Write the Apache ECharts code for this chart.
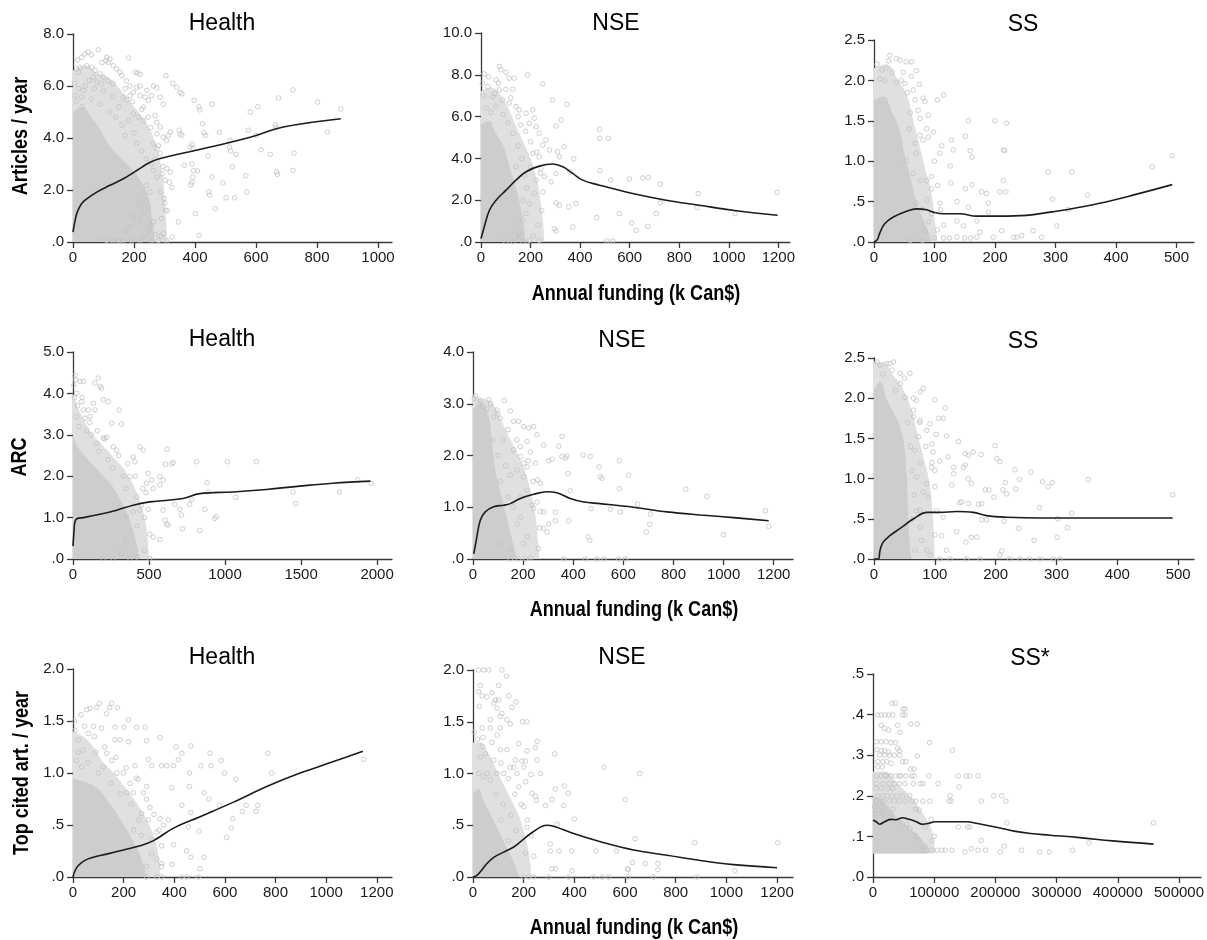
<!DOCTYPE html>
<html>
<head>
<meta charset="utf-8">
<script src="https://cdn.jsdelivr.net/npm/echarts@6/dist/echarts.min.js"></script>
<style>html,body{margin:0;padding:0;background:#fff}#chart{width:1207px;height:940px}</style>
</head>
<body>
<div id="chart"></div>
<script>
// ---- tick labels ----
const ticks0to1000 = [0, 200, 400, 600, 800, 1000];
const ticks0to1200 = [0, 200, 400, 600, 800, 1000, 1200];
const ticks0to500 = [0, 100, 200, 300, 400, 500];
const ticks0to2000 = [0, 500, 1000, 1500, 2000];
const ticks0to500k = [0, 100000, 200000, 300000, 400000, 500000];

// ---- Row 1: Articles / year ----
const health1Pts = [[878,5.12],[802,5.38],[834,4.23],[721,5.85],[725,3.42],[721,2.75],[674,5.54],[664,4.5],[664,4.4],[668,2.7],[670,2.6],[647,3.37],[617,3.55],[606,5.2],[601,4.1],[575,4.3],[581,5.0],[567,2.55],[570,1.92],[535,3.37],[530,1.7],[523,2.9],[515,3.9],[513,3.65],[517,3.5],[502,1.7],[491,2.27],[480,4.22],[466,1.28],[456,5.3],[456,2.5],[448,1.8],[445,1.92],[443,3.3],[435,4.1],[430,4.2],[425,4.55],[413,5.2],[416,5.08],[408,2.73],[413,0.26],[401,1.09],[397,5.45],[390,3.75],[384,3.65],[393,3.6],[390,3.0],[395,2.75],[393,2.5],[390,2.3],[386,2.2],[365,2.95],[346,0.77],[348,4.3],[351,4.15],[357,4.1],[340,5.95],[351,5.75],[357,5.7],[327,6.1],[325,0.19],[305,6.4],[304,1.22],[309,1.2],[299,1.67],[296,0.32],[289,0.22],[286,1.92],[264,6.0],[275,5.93],[286,5.57],[296,5.3],[264,0.77],[258,0.64],[247,0.45],[209,5.95],[220,6.0],[204,6.53],[212,6.5],[220,6.45],[182,7.08],[83,7.39],[50,7.3],[39,7.23],[28,7.1],[110,7.1],[121,7.04],[108,6.98],[116,6.9],[132,6.78],[143,6.66],[154,6.53],[160,6.4],[12,6.66],[23,6.72],[18,6.53],[45,6.78],[61,6.72],[72,6.6],[89,6.47],[100,6.34],[67,6.34],[53,6.21],[78,6.15],[94,6.08],[18,5.9],[34,5.83],[7,5.63],[28,5.57],[165,5.57],[176,5.47],[187,5.63],[171,5.9],[187,6.0],[198,5.76],[220,5.63],[236,5.57],[247,5.44],[258,5.63],[242,5.83],[231,5.19],[247,4.8],[269,4.87],[198,4.93],[214,4.8],[231,4.67],[182,4.67],[275,4.6],[286,4.42],[275,4.16],[296,4.03],[307,3.9],[313,4.1],[319,4.23],[264,3.78],[275,3.59],[286,3.4],[269,3.2],[258,3.0],[264,2.75],[275,2.5],[292,2.62],[307,2.82],[319,2.69],[302,2.37],[316,2.3],[324,2.1],[242,2.18],[253,1.92],[236,1.6],[247,1.34],[220,1.47],[231,1.09],[220,0.83],[198,0.96],[187,0.58],[171,0.45],[89,0.13],[110,0.06],[132,0.04],[165,0.04],[193,0.04],[220,0.04],[258,0.04],[280,0.06],[307,0.04],[10,5.4],[30,5.2],[60,5.5],[90,5.3],[120,5.0],[140,4.8],[160,4.5],[150,5.2],[130,5.6],[40,6.0],[70,5.9],[100,5.8],[5,6.1],[115,6.2],[210,3.8],[225,3.5],[240,3.2],[200,4.2],[170,4.1],[15,7.0],[60,7.2],[95,6.9],[130,6.1],[175,6.2],[195,5.4],[225,5.1],[255,4.4],[280,3.7],[295,2.9],[300,1.5],[290,0.9],[270,0.3],[230,0.2],[150,0.05]];
const health1Core = [[0,5.0],[30,5.2],[60,4.8],[90,4.3],[120,3.7],[160,3.2],[200,2.7],[230,2.2],[250,1.6],[260,0.8],[268,0]];
const health1Halo = [[0,6.6],[40,6.8],[80,6.5],[120,6.3],[160,5.8],[200,5.2],[240,4.6],[270,3.8],[290,2.8],[300,1.8],[305,0.8],[310,0]];
const health1Fit = [[0,0.38],[7,0.83],[14,1.15],[28,1.47],[45,1.66],[78,1.92],[121,2.18],[165,2.43],[209,2.75],[253,3.07],[296,3.24],[362,3.42],[472,3.71],[581,4.03],[690,4.42],[878,4.74]];

const nse1Pts = [[1195,2.37],[1025,1.36],[877,2.32],[871,1.65],[724,2.77],[724,1.87],[707,1.36],[673,0.75],[676,3.09],[653,3.06],[599,3.02],[626,0.56],[608,0.91],[558,1.36],[523,2.96],[467,1.17],[513,4.96],[480,4.96],[478,5.39],[480,3.41],[531,0.05],[507,0.05],[347,6.58],[374,3.98],[370,0.72],[383,1.84],[359,3.36],[354,1.68],[336,4.56],[323,5.84],[303,5.55],[303,0.53],[289,6.8],[296,0.64],[303,1.87],[316,1.76],[309,4.32],[316,4.08],[303,3.28],[283,2.88],[249,7.57],[188,8.0],[114,7.84],[74,8.4],[13,8.05],[81,8.24],[101,8.11],[61,7.76],[134,7.84],[128,7.31],[74,7.28],[27,7.44],[47,6.96],[87,6.8],[114,6.64],[141,6.48],[155,6.32],[182,6.16],[209,6.32],[215,5.92],[195,5.68],[222,5.52],[235,5.2],[262,4.88],[249,4.64],[276,4.4],[209,4.24],[235,4.08],[242,3.52],[256,3.12],[222,2.96],[215,2.32],[195,1.84],[182,1.36],[168,1.04],[155,0.4],[235,0.08],[195,0.08],[155,0.21],[20,6.4],[40,6.2],[60,6.5],[90,6.1],[110,5.7],[130,5.2],[150,4.6],[165,4.0],[175,3.2],[185,2.6],[170,2.0],[10,7.0],[55,7.1],[160,5.6],[140,3.6],[200,3.6],[5,7.6],[30,7.9],[70,7.6],[100,7.3],[120,6.9],[150,6.0],[180,5.3],[200,4.8],[225,4.3],[240,3.3],[250,2.4],[245,1.5],[230,0.8],[210,0.3],[100,0.02],[130,0.02],[170,0.02]];
const nse1Core = [[0,5.6],[30,5.8],[60,5.2],[90,4.6],[110,3.8],[130,3.0],[150,2.2],[165,1.3],[175,0.5],[180,0]];
const nse1Halo = [[0,7.2],[40,7.4],[80,7.0],[110,6.4],[140,5.6],[170,4.8],[200,4.0],[225,3.0],[240,2.0],[250,1.0],[255,0]];
const nse1Fit = [[0,0.16],[13,0.72],[34,1.52],[61,2.0],[101,2.48],[141,2.96],[182,3.36],[235,3.63],[289,3.73],[330,3.6],[370,3.28],[410,2.96],[478,2.72],[612,2.32],[747,2.0],[881,1.76],[1016,1.52],[1197,1.28]];

const ss1Pts = [[493,1.07],[460,0.93],[353,0.58],[327,0.87],[288,0.87],[295,0.53],[302,0.2],[321,0.4],[263,0.14],[277,0.06],[214,1.14],[216,1.13],[214,0.76],[208,0.62],[218,0.62],[211,0.14],[200,1.5],[219,1.47],[156,1.5],[151,1.31],[159,1.13],[162,1.05],[162,0.71],[151,0.66],[156,0.43],[137,0.5],[137,0.26],[148,0.2],[126,0.94],[128,1.26],[131,1.14],[127,0.73],[109,1.1],[112,1.19],[115,0.21],[109,0.48],[98,1.36],[105,1.76],[115,1.82],[178,0.62],[186,0.6],[189,0.48],[189,0.37],[197,0.06],[231,0.06],[236,0.06],[244,0.08],[170,0.06],[137,0.06],[115,0.05],[170,0.26],[175,0.12],[24,2.24],[37,2.27],[26,2.31],[43,2.25],[53,2.23],[62,2.23],[70,2.12],[62,2.05],[51,1.96],[37,1.98],[65,1.88],[68,1.76],[81,1.78],[84,1.74],[73,1.63],[76,1.53],[90,1.57],[87,1.4],[76,1.32],[81,1.26],[68,1.22],[70,1.1],[54,1.01],[65,0.85],[76,0.76],[87,0.76],[95,0.81],[95,0.66],[87,0.52],[79,0.41],[95,0.35],[90,0.25],[84,0.14],[70,0.48],[13,2.13],[10,2.02],[18,2.0],[30,2.1],[45,2.0],[55,1.85],[60,1.6],[58,1.4],[100,0.05],[125,0.05],[150,0.05],[160,0.05],[5,2.2],[20,2.15],[48,2.1],[75,1.95],[90,1.3],[100,1.0],[105,0.7],[110,0.4],[105,0.15],[60,0.02],[80,0.02]];
const ss1Core = [[0,1.75],[15,1.8],[30,1.6],[42,1.4],[50,1.1],[60,0.8],[70,0.5],[80,0.3],[90,0.12],[95,0]];
const ss1Halo = [[0,2.15],[20,2.2],[40,2.0],[55,1.8],[65,1.5],[75,1.2],[85,0.9],[95,0.6],[100,0.3],[105,0]];
const ss1Fit = [[0,0],[5.5,0.03],[10,0.12],[18,0.23],[32,0.31],[54,0.38],[70,0.41],[87,0.4],[98,0.37],[115,0.35],[142,0.35],[170,0.32],[208,0.32],[252,0.33],[291,0.37],[318,0.4],[373,0.48],[428,0.58],[493,0.71]];

// ---- Row 2: ARC ----
const health2Pts = [[1961,1.83],[1873,1.91],[1446,1.62],[1464,1.34],[1753,1.62],[1206,2.35],[1015,2.35],[812,2.35],[1070,1.49],[867,1.2],[834,0.69],[932,0.98],[943,1.02],[882,1.84],[888,1.62],[659,2.33],[619,2.65],[608,2.29],[648,2.3],[720,0.73],[713,1.06],[670,1.32],[702,1.2],[768,1.32],[779,1.44],[593,1.18],[606,0.94],[615,0.84],[626,0.82],[527,0.53],[571,0.47],[505,0.01],[571,1.99],[593,1.91],[516,1.91],[484,1.83],[494,2.07],[571,1.79],[527,1.7],[462,2.63],[440,2.71],[396,2.47],[407,2.35],[374,1.99],[440,1.18],[396,1.14],[352,1.02],[341,0.45],[319,0.13],[374,0.01],[265,0.01],[199,0.01],[304,3.6],[319,3.26],[265,2.71],[287,2.63],[221,2.94],[232,3.8],[199,3.85],[166,4.37],[177,4.17],[188,4.13],[144,4.25],[134,3.76],[144,3.6],[112,3.44],[79,3.4],[101,3.6],[68,4.29],[46,4.29],[18,4.33],[13,4.43],[68,3.6],[57,3.8],[24,3.44],[254,3.28],[199,2.92],[155,2.79],[10,3.9],[30,3.7],[40,3.2],[90,3.1],[120,3.0],[170,2.6],[230,2.4],[260,2.2],[330,2.0],[350,1.7],[420,1.5],[450,1.3],[470,1.0],[420,0.8],[480,1.6],[5,4.2],[25,4.0],[60,3.9],[110,3.3],[160,3.1],[210,2.9],[300,2.5],[360,2.3],[410,2.0],[460,1.7],[495,1.2],[505,0.6],[470,0.2],[420,0.05]];
const health2Core = [[0,3.0],[20,2.8],[50,2.6],[100,2.4],[150,2.2],[200,2.0],[250,1.8],[300,1.5],[350,1.15],[390,0.75],[420,0.35],[435,0]];
const health2Halo = [[0,4.0],[40,3.6],[80,3.3],[130,3.0],[180,2.8],[230,2.6],[280,2.4],[330,2.2],[380,1.9],[430,1.5],[470,1.0],[490,0.5],[500,0]];
const health2Fit = [[0,0.31],[7,0.69],[13,0.9],[28,0.98],[68,1.0],[177,1.08],[287,1.18],[396,1.3],[505,1.38],[724,1.46],[834,1.58],[1053,1.62],[1271,1.68],[1490,1.76],[1709,1.83],[1956,1.88]];

const nse2Pts = [[1180,0.63],[1167,0.93],[1000,0.47],[934,1.21],[849,1.35],[708,0.87],[692,0.52],[705,0.67],[657,1.06],[621,1.62],[588,0.91],[584,1.36],[584,1.9],[548,0.96],[508,1.59],[515,1.56],[503,1.78],[468,1.98],[439,2.01],[471,0.97],[459,0.43],[466,0.36],[388,1.32],[379,1.65],[382,0.74],[355,1.98],[369,1.95],[375,1.99],[355,2.37],[342,2.18],[315,1.93],[302,1.9],[329,0.9],[329,0.74],[302,0.68],[295,0.52],[282,0.59],[269,0.92],[282,0.91],[242,0.98],[235,1.04],[269,1.46],[258,1.53],[282,2.2],[255,2.4],[242,2.56],[222,2.53],[202,2.56],[182,2.66],[162,2.66],[149,2.86],[125,3.06],[63,3.08],[96,2.88],[109,2.72],[82,2.75],[216,2.27],[189,2.17],[189,1.98],[202,1.85],[162,2.11],[176,1.72],[149,1.62],[229,2.07],[249,1.85],[216,1.78],[202,1.59],[216,1.33],[189,1.2],[189,0.81],[176,0.68],[149,0.18],[149,0],[182,0],[209,0],[362,0],[448,0],[495,0],[522,0],[581,0],[608,0],[216,0.43],[202,0.3],[109,0.3],[10,3.15],[25,3.0],[40,2.95],[55,2.9],[120,2.3],[130,1.8],[110,1.5],[140,1.2],[160,1.0],[100,2.0],[80,2.3],[5,3.1],[30,3.05],[70,3.0],[100,2.8],[140,2.5],[175,2.3],[220,1.9],[240,1.5],[255,1.1],[265,0.6],[260,0.2],[230,0.02]];
const nse2Core = [[0,2.9],[30,3.0],[60,2.8],[75,2.3],[90,1.7],[110,1.3],[130,0.9],[150,0.5],[165,0.2],[175,0]];
const nse2Halo = [[0,3.15],[40,3.1],[80,3.0],[120,2.6],[160,2.2],[200,1.8],[230,1.3],[250,0.8],[260,0.3],[265,0]];
const nse2Fit = [[3,0.1],[13,0.36],[29,0.75],[49,0.91],[82,1.01],[122,1.04],[149,1.07],[189,1.17],[242,1.25],[295,1.3],[335,1.28],[388,1.17],[442,1.1],[508,1.07],[641,1.0],[774,0.91],[907,0.85],[1040,0.8],[1180,0.74]];

const ss2Pts = [[491,0.8],[352,0.99],[325,0.57],[318,0.39],[302,0.5],[301,0.27],[293,0.95],[286,0.9],[277,0.96],[272,0.64],[263,0.23],[258,1.08],[239,0.99],[238,0.38],[232,1.11],[233,0.87],[216,0.95],[212,0.86],[218,0.81],[214,0.47],[207,1.21],[202,1.25],[199,1.41],[197,0.77],[210,0.1],[207,0.05],[189,0.86],[183,0.86],[185,0.49],[177,0.49],[176,1.3],[172,0.68],[177,0.69],[169,0.27],[160,0.27],[160,0.94],[155,1.0],[163,1.33],[155,1.29],[150,1.31],[147,1.14],[150,1.17],[144,0.71],[155,0.69],[141,0.7],[151,0.21],[136,0.34],[139,1.46],[131,1.14],[131,1.06],[128,0.92],[122,1.27],[119,1.53],[117,1.88],[100,1.98],[114,1.75],[106,1.75],[114,0.52],[111,0.29],[119,0.11],[102,1.55],[95,1.43],[97,1.33],[95,1.14],[100,1.1],[108,1.22],[87,1.6],[92,1.68],[76,2.08],[81,2.12],[59,2.31],[70,1.97],[65,1.85],[65,1.77],[76,1.72],[73,1.52],[67,1.35],[76,1.19],[70,1.02],[87,0.94],[81,0.83],[89,0.77],[76,0.61],[76,0.4],[78,0.23],[67,0.11],[87,0.11],[92,0.05],[26,2.43],[32,2.45],[21,2.43],[10,2.41],[43,2.31],[43,2.18],[51,2.01],[108,0],[125,0],[152,0],[174,0],[223,0],[240,0],[256,0],[273,0],[295,0],[306,0],[15,2.3],[35,2.1],[55,1.7],[60,1.4],[62,1.1],[66,0.8],[70,0.6],[63,0.5],[5,2.45],[30,2.35],[50,2.25],[65,2.0],[75,1.7],[85,1.4],[95,1.2],[100,0.9],[103,0.6],[100,0.3]];
const ss2Core = [[0,2.1],[10,2.2],[20,2.0],[30,1.85],[40,1.7],[48,1.5],[54,1.0],[57,0.4],[60,0.1],[62,0]];
const ss2Halo = [[0,2.45],[15,2.45],[30,2.3],[45,2.15],[60,1.9],[70,1.6],[80,1.3],[90,1.0],[95,0.7],[98,0.4],[100,0]];
const ss2Fit = [[0,0],[7,0],[10,0.11],[15,0.21],[26,0.29],[43,0.38],[65,0.5],[87,0.58],[108,0.58],[136,0.59],[163,0.58],[185,0.54],[218,0.52],[273,0.51],[371,0.51],[491,0.51]];

// ---- Row 3: Top cited articles / year ----
const health3Pts = [[1148,1.13],[785,1.0],[769,1.19],[730,0.69],[723,0.63],[684,0.69],[669,0.63],[631,0.56],[625,0.47],[607,0.38],[643,0.94],[598,1.0],[585,1.12],[578,0.69],[545,1.07],[541,1.19],[537,0.75],[518,0.81],[505,1.07],[498,0.44],[518,0.19],[502,0.08],[465,1.26],[460,1.0],[460,0.87],[465,0.62],[456,0.48],[430,0.69],[449,0.25],[465,0.19],[430,1.19],[416,1.13],[407,1.25],[397,1.07],[390,0.86],[377,0.55],[397,0.31],[390,0.12],[370,1.07],[344,1.34],[350,1.07],[344,0.56],[357,0.5],[331,0.43],[350,0.13],[311,1.07],[298,1.13],[291,1.31],[285,1.44],[252,1.44],[245,1.07],[258,0.94],[291,0.87],[278,0.81],[304,0.67],[271,0.61],[298,0.55],[311,0.36],[311,0.22],[331,0.17],[291,0.1],[291,0],[331,0],[350,0],[430,0],[449,0],[495,0],[104,1.67],[54,1.61],[32,1.56],[67,1.62],[94,1.63],[153,1.67],[145,1.63],[175,1.63],[133,1.57],[166,1.44],[202,1.44],[219,1.51],[186,1.32],[219,1.3],[166,1.32],[113,1.43],[80,1.45],[61,1.38],[133,1.19],[153,1.12],[120,1.06],[173,1.0],[199,1.0],[225,0.9],[212,0.81],[238,0.81],[186,0.8],[8,1.41],[21,1.32],[41,1.22],[14,1.12],[34,1.06],[60,1.1],[90,1.2],[100,1.0],[230,0.7],[260,0.55],[240,0.45],[270,0.4],[150,0.9],[20,1.2],[5,1.5],[45,1.45],[85,1.35],[125,1.25],[170,1.15],[210,1.05],[250,0.95],[290,0.75],[320,0.6],[340,0.45],[350,0.3],[350,0.1]];
const health3Core = [[0,0.95],[40,0.92],[80,0.88],[110,0.82],[140,0.72],[170,0.62],[200,0.5],[230,0.38],[255,0.26],[275,0.14],[290,0]];
const health3Halo = [[0,1.4],[40,1.35],[80,1.25],[120,1.1],[160,1.0],[200,0.88],[240,0.75],[280,0.6],[310,0.45],[330,0.3],[340,0.15],[345,0]];
const health3Fit = [[0,0],[8,0.06],[21,0.11],[47,0.16],[80,0.19],[133,0.22],[199,0.26],[265,0.3],[318,0.35],[397,0.47],[502,0.58],[634,0.72],[765,0.87],[897,1.0],[1029,1.11],[1145,1.21]];

const nse3Pts = [[1203,0.33],[1033,0.06],[875,0.33],[884,0],[713,0],[730,0.13],[730,0.07],[680,0.13],[630,0.14],[613,0.07],[612,0],[609,0.08],[601,0.75],[658,1.0],[640,0.37],[518,1.06],[566,0.25],[486,0.25],[476,0],[509,0],[536,0],[400,0.56],[389,0.25],[391,0.06],[378,0],[376,0.81],[361,0.88],[358,0.69],[332,0.51],[339,0.25],[322,1.19],[325,0.85],[312,0.75],[305,0.25],[312,0.08],[325,0.08],[305,0.32],[299,0],[286,0.69],[266,1.0],[253,1.13],[246,1.25],[253,1.31],[233,0.81],[246,0.78],[250,0.74],[229,0.99],[207,1.12],[213,1.22],[193,1.12],[200,1.06],[208,0.92],[213,1.5],[195,1.5],[180,1.29],[167,1.13],[174,1.0],[180,0.87],[200,0.68],[213,0.48],[207,0.23],[239,0],[220,0],[200,0],[170,1.69],[154,1.64],[141,1.75],[132,1.94],[114,2.0],[101,1.85],[108,1.55],[114,1.58],[134,1.52],[147,1.48],[62,2.0],[42,2.0],[22,2.0],[29,1.85],[22,1.79],[25,1.65],[36,1.75],[55,1.74],[75,1.78],[88,1.71],[101,1.71],[95,1.63],[82,1.68],[68,1.52],[36,1.44],[68,1.44],[108,1.44],[95,1.37],[108,1.23],[134,1.23],[147,1.06],[161,1.06],[121,1.0],[95,1.0],[55,1.0],[22,1.0],[42,0.97],[68,0.94],[29,1.16],[49,1.19],[82,1.13],[18,1.33],[36,1.26],[90,0.8],[120,0.7],[150,0.6],[110,0.55],[170,0.45],[140,0.35],[5,1.4],[40,1.35],[75,1.3],[110,1.1],[140,0.95],[165,0.8],[190,0.7],[215,0.55],[230,0.4],[240,0.2]];
const nse3Core = [[0,0.8],[20,0.85],[40,0.75],[60,0.65],[80,0.55],[100,0.45],[120,0.35],[140,0.25],[160,0.15],[175,0.05],[185,0]];
const nse3Halo = [[0,1.3],[30,1.3],[60,1.2],[90,1.05],[120,0.9],[150,0.75],[180,0.6],[200,0.45],[215,0.3],[225,0.15],[230,0]];
const nse3Fit = [[0,0],[13,0.01],[29,0.05],[55,0.13],[82,0.19],[121,0.24],[161,0.29],[187,0.34],[239,0.44],[292,0.5],[318,0.49],[397,0.42],[503,0.34],[634,0.26],[766,0.21],[897,0.16],[1029,0.12],[1200,0.09]];

const ss3Pts = [[458400,0.133],[352800,0.084],[326000,0.066],[287900,0.062],[272400,0.062],[242900,0.066],[208000,0.062],[214500,0.076],[218800,0.133],[217200,0.187],[210200,0.2],[197300,0.2],[183900,0.066],[176900,0.187],[176900,0.09],[171600,0.249],[171600,0.066],[160900,0.07],[158200,0.249],[152800,0.249],[158200,0.123],[154400,0.123],[150100,0.062],[139400,0.123],[140500,0.222],[139400,0.249],[129800,0.312],[127600,0.187],[124400,0.187],[126000,0.2],[128700,0.066],[118000,0.066],[112600,0.066],[106200,0.23],[95400,0.142],[96500,0.09],[96500,0.066],[92200,0.331],[91200,0.249],[92800,0.187],[81500,0.187],[81500,0.23],[77700,0.23],[72400,0.298],[72400,0.377],[61700,0.377],[67000,0.266],[61700,0.266],[67000,0.249],[63300,0.249],[66000,0.23],[69700,0.187],[69700,0.167],[52500,0.414],[49300,0.414],[48300,0.399],[52500,0.399],[40200,0.374],[44000,0.356],[42900,0.311],[40200,0.317],[53600,0.284],[48300,0.284],[44000,0.3],[45600,0.249],[31100,0.428],[36500,0.428],[8000,0.399],[13400,0.399],[19800,0.399],[25700,0.399],[32200,0.399],[13400,0.374],[18800,0.366],[25700,0.362],[5400,0.333],[13400,0.333],[21400,0.333],[29500,0.331],[36500,0.331],[6400,0.314],[13400,0.311],[18800,0.311],[25700,0.308],[10700,0.3],[18800,0.3],[26800,0.3],[34900,0.3],[8000,0.284],[16100,0.284],[22500,0.284],[29500,0.28],[8000,0.271],[15000,0.271],[5400,0.249],[13400,0.249],[21400,0.249],[29500,0.249],[37500,0.249],[42900,0.249],[53600,0.249],[5400,0.23],[16100,0.23],[26800,0.23],[34900,0.23],[42900,0.23],[52500,0.23],[5400,0.218],[13400,0.218],[24100,0.218],[32200,0.218],[8000,0.2],[16100,0.2],[22500,0.2],[31100,0.2],[38600,0.2],[48300,0.2],[5400,0.187],[16100,0.187],[26800,0.187],[34900,0.187],[42900,0.187],[53600,0.187],[64300,0.187],[2700,0.173],[13400,0.173],[22500,0.169],[32200,0.167],[4300,0.156],[16100,0.156],[29500,0.156],[75000,0.09],[80000,0.066],[85000,0.075],[70000,0.1],[60000,0.12],[55000,0.13],[45000,0.14],[88000,0.066],[85000,0.123],[100000,0.1],[105000,0.066],[20000,0.25],[60000,0.2],[75000,0.165]];
const ss3Core = [[0,0.2],[15000,0.19],[30000,0.16],[45000,0.14],[60000,0.12],[75000,0.1],[85000,0.08],[92000,0.06]];
const ss3Halo = [[0,0.26],[20000,0.26],[40000,0.23],[60000,0.2],[80000,0.16],[95000,0.12],[100000,0.08],[102000,0.06]];
const ss3Fit = [[0,0.14],[5360,0.136],[10700,0.13],[18800,0.136],[29500,0.142],[37500,0.141],[48300,0.146],[59000,0.142],[69700,0.137],[80400,0.13],[91200,0.132],[101900,0.136],[123300,0.136],[150100,0.136],[176900,0.13],[203700,0.122],[230600,0.113],[257400,0.107],[289500,0.103],[337800,0.097],[391400,0.089],[458400,0.081]];

// ---- panel setup ----
const FONT = '"Liberation Sans", Arial, sans-serif';
const FUNDING = 'Annual funding (k Can$)';

const panels = [
  { title: 'Health', pts: health1Pts, core: health1Core, halo: health1Halo, fit: health1Fit, xMax: 1046, xTicks: ticks0to1000, yMax: 8, yStep: 2, yName: 'Articles / year' },
  { title: 'NSE', pts: nse1Pts, core: nse1Core, halo: nse1Halo, fit: nse1Fit, xMax: 1247, xTicks: ticks0to1200, yMax: 10, yStep: 2, xName: FUNDING },
  { title: 'SS', pts: ss1Pts, core: ss1Core, halo: ss1Halo, fit: ss1Fit, xMax: 529, xTicks: ticks0to500, yMax: 2.5, yStep: 0.5 },
  { title: 'Health', pts: health2Pts, core: health2Core, halo: health2Halo, fit: health2Fit, xMax: 2098, xTicks: ticks0to2000, yMax: 5, yStep: 1, yName: 'ARC' },
  { title: 'NSE', pts: nse2Pts, core: nse2Core, halo: nse2Halo, fit: nse2Fit, xMax: 1277, xTicks: ticks0to1200, yMax: 4, yStep: 1, xName: FUNDING },
  { title: 'SS', pts: ss2Pts, core: ss2Core, halo: ss2Halo, fit: ss2Fit, xMax: 526, xTicks: ticks0to500, yMax: 2.5, yStep: 0.5 },
  { title: 'Health', pts: health3Pts, core: health3Core, halo: health3Halo, fit: health3Fit, xMax: 1260, xTicks: ticks0to1200, yMax: 2, yStep: 0.5, yName: 'Top cited art. / year' },
  { title: 'NSE', pts: nse3Pts, core: nse3Core, halo: nse3Halo, fit: nse3Fit, xMax: 1263, xTicks: ticks0to1200, yMax: 2, yStep: 0.5, xName: FUNDING },
  { title: 'SS*', pts: ss3Pts, core: ss3Core, halo: ss3Halo, fit: ss3Fit, xMax: 536000, xTicks: ticks0to500k, yMax: 0.5, yStep: 0.1, coreBase: 0.058 }
];

// pixel layout of each plot area
const boxes = [
  { left: 73, top: 34, width: 319, height: 208 },
  { left: 481, top: 33, width: 309, height: 209 },
  { left: 874, top: 40, width: 320, height: 202 },
  { left: 73, top: 352, width: 319, height: 207 },
  { left: 473, top: 352, width: 320, height: 207 },
  { left: 874, top: 358, width: 320, height: 201 },
  { left: 73, top: 669, width: 319, height: 208 },
  { left: 473, top: 670, width: 320, height: 207 },
  { left: 873, top: 674, width: 334, height: 203 }
];
const titlePos = [[222, 24], [616, 24], [1023, 25], [222, 340], [622, 341], [1023, 342], [222, 658], [622, 658], [1030, 659]];
const xNamePos = [null, [636, 294], null, null, [634, 610], null, null, [634, 928], null];
const yNamePos = [[21, 136], null, null, [20, 457], null, null, [22, 773], null, null];

const axisColor = '#3a3a3a';
const labelStyle = { color: '#1a1a1a', fontSize: 15, fontFamily: FONT };

// SPSS style numbers: .0, .5, 1.0
function spssFmt(v) {
  const s = v.toFixed(1);
  return s.startsWith('0') ? s.slice(1) : s;
}

// condensed text (SPSS uses a narrow face)
function narrowText(text, pos, size, bold, rotate) {
  return {
    type: 'text', x: pos[0], y: pos[1], silent: true,
    rotation: rotate ? Math.PI / 2 : 0, scaleX: 0.82,
    style: { text, fill: '#000', font: (bold ? 'bold ' : '') + size + 'px ' + FONT, align: 'center', verticalAlign: 'middle' }
  };
}

const grid = [], xAxis = [], yAxis = [], series = [], graphic = [];

panels.forEach((p, i) => {
  grid.push(Object.assign({ containLabel: false }, boxes[i]));

  xAxis.push({
    type: 'value', gridIndex: i, min: 0, max: p.xMax,
    axisLine: { show: true, lineStyle: { color: axisColor, width: 1.3 } },
    axisTick: { show: true, length: 6, customValues: p.xTicks, lineStyle: { color: axisColor, width: 1.3 } },
    axisLabel: { customValues: p.xTicks, margin: 8, ...labelStyle, formatter: v => String(v) },
    splitLine: { show: false }
  });

  yAxis.push({
    type: 'value', gridIndex: i, min: 0, max: p.yMax, interval: p.yStep,
    axisLine: { show: true, lineStyle: { color: axisColor, width: 1.3 } },
    axisTick: { show: true, length: 6, lineStyle: { color: axisColor, width: 1.3 } },
    axisLabel: { margin: 9, ...labelStyle, formatter: spssFmt },
    splitLine: { show: false }
  });

  const base = p.coreBase != null ? p.coreBase : 0;

  // lighter grey where the points form a mesh
  series.push({
    type: 'line', xAxisIndex: i, yAxisIndex: i, data: p.halo, smooth: 0.45,
    symbol: 'none', silent: true, z: 1,
    lineStyle: { width: 0, color: '#e0e0e0' },
    areaStyle: { color: '#e0e0e0', opacity: 1, origin: base }
  });

  // solid grey where the points pile up
  series.push({
    type: 'line', xAxisIndex: i, yAxisIndex: i, data: p.core, smooth: 0.45,
    symbol: 'none', silent: true, z: 1,
    lineStyle: { width: 0, color: '#cdcdcd' },
    areaStyle: { color: '#cdcdcd', opacity: 1, origin: base }
  });

  series.push({
    type: 'scatter', xAxisIndex: i, yAxisIndex: i, data: p.pts,
    symbol: 'circle', symbolSize: 4.6, silent: true, z: 2,
    itemStyle: { color: 'rgba(255,255,255,0)', borderColor: '#c2c2c2', borderWidth: 1 }
  });

  series.push({
    type: 'line', xAxisIndex: i, yAxisIndex: i, data: p.fit, smooth: 0.4,
    symbol: 'none', silent: true, z: 3,
    lineStyle: { color: '#1c1c1c', width: 1.6 }
  });

  graphic.push({
    type: 'text', x: titlePos[i][0], y: titlePos[i][1], silent: true,
    style: { text: p.title, fill: '#000', font: '23px ' + FONT, align: 'center', verticalAlign: 'middle' }
  });
  if (p.xName) graphic.push(narrowText(p.xName, xNamePos[i], 22, true, false));
  if (p.yName) graphic.push(narrowText(p.yName, yNamePos[i], 22, true, true));
});

const chart = echarts.init(document.getElementById('chart'), null, { renderer: 'canvas' });
chart.setOption({
  animation: false,
  backgroundColor: '#fff',
  grid, xAxis, yAxis, series, graphic
});
</script>
</body>
</html>
